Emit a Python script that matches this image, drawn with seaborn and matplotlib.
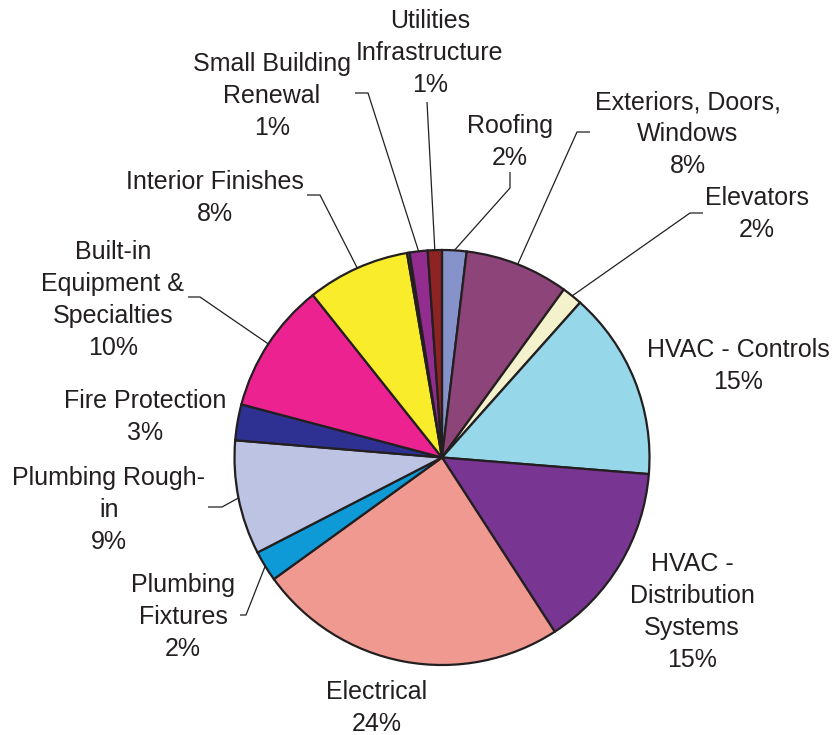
import numpy as np
import matplotlib
matplotlib.use("Agg")
import matplotlib.pyplot as plt
import seaborn as sns

# ---------------- data ----------------
categories = ["Roofing", "Exteriors, Doors, Windows", "Elevators", "HVAC - Controls",
              "HVAC - Distribution Systems", "Electrical", "Plumbing Fixtures",
              "Plumbing Rough-in", "Fire Protection", "Built-in Equipment & Specialties",
              "Interior Finishes", "Other", "Small Building Renewal", "Utilities Infrastructure"]
values = [1.9, 8.1, 1.6, 14.7, 14.6, 24.2, 2.4, 8.9, 2.8, 10.2, 8.0, 0.2, 1.4, 1.1]
label_texts = ["Roofing\n2%", "Exteriors, Doors,\nWindows\n8%", "Elevators\n2%",
               "HVAC - Controls\n15%", "HVAC -\nDistribution\nSystems\n15%",
               "Electrical\n24%", "Plumbing\nFixtures\n2%", "Plumbing Rough-\nin\n9%",
               "Fire Protection\n3%", "Built-in\nEquipment &\nSpecialties\n10%",
               "Interior Finishes\n8%", "", "Small Building\nRenewal\n1%",
               "Utilities\nInfrastructure\n1%"]
colors = ["#8593CA", "#8C4479", "#F4F2CC", "#96D7E9", "#783591", "#F09991", "#0E9AD7",
          "#BDC3E2", "#2E3192", "#EB2290", "#F8EC2B", "#1C8A9E", "#922C8F", "#8E2323"]

# ---------------- layout (pixel coords, y from top) ----------------
W, H = 833, 735
CX, CY, R = 442, 457.5, 207.5
label_pos = {
    "Roofing": (510, 142),
    "Exteriors, Doors, Windows": (688, 134),
    "Elevators": (757, 214),
    "HVAC - Controls": (738, 366),
    "HVAC - Distribution Systems": (692, 612),
    "Electrical": (377, 708),
    "Plumbing Fixtures": (183, 617),
    "Plumbing Rough-in": (109, 510),
    "Fire Protection": (145, 417),
    "Built-in Equipment & Specialties": (113, 300),
    "Interior Finishes": (215, 198),
    "Small Building Renewal": (272, 96),
    "Utilities Infrastructure": (430, 53),
}
leaders = {
    "Roofing": [(510, 172), (510, 188)],
    "Exteriors, Doors, Windows": [(590, 132), (577, 132)],
    "Elevators": [(703, 213), (690, 213)],
    "Interior Finishes": [(307, 195), (320, 195)],
    "Built-in Equipment & Specialties": [(188, 297), (200, 297)],
    "Small Building Renewal": [(355, 93), (368, 93)],
    "Utilities Infrastructure": [(427, 102)],
    "Plumbing Rough-in": [(208, 507), (222, 507)],
    "Plumbing Fixtures": [(240, 615), (246, 615)],
}

sns.set_style("white")
plt.rcParams["font.family"] = ["Liberation Sans", "DejaVu Sans"]

fig = plt.figure(figsize=(W / 100, H / 100), dpi=100)
ax = fig.add_axes([0, 0, 1, 1])

def P(x, y):
    return (x, H - y)

wedges, _ = ax.pie(values, colors=colors, startangle=90, counterclock=False,
                   center=P(CX, CY), radius=R,
                   wedgeprops=dict(edgecolor="#231F20", linewidth=1.6))
ax.set_xlim(0, W)
ax.set_ylim(0, H)
ax.set_aspect("equal")
ax.axis("off")

text_color = "#231F20"
for cat, txt, w in zip(categories, label_texts, wedges):
    if not txt:
        continue
    x, y = label_pos[cat]
    ax.text(*P(x, y), txt, ha="center", va="center", multialignment="center",
            fontsize=18, color=text_color, linespacing=1.42)
    if cat in leaders:
        mid = np.deg2rad((w.theta1 + w.theta2) / 2)
        cx, cy = P(CX, CY)
        end = (cx + R * np.cos(mid), cy + R * np.sin(mid))
        pts = [P(px, py) for px, py in leaders[cat]] + [end]
        xs, ys = zip(*pts)
        ax.plot(xs, ys, color=text_color, linewidth=0.9, solid_capstyle="butt")

fig.savefig("out.png", dpi=100)
